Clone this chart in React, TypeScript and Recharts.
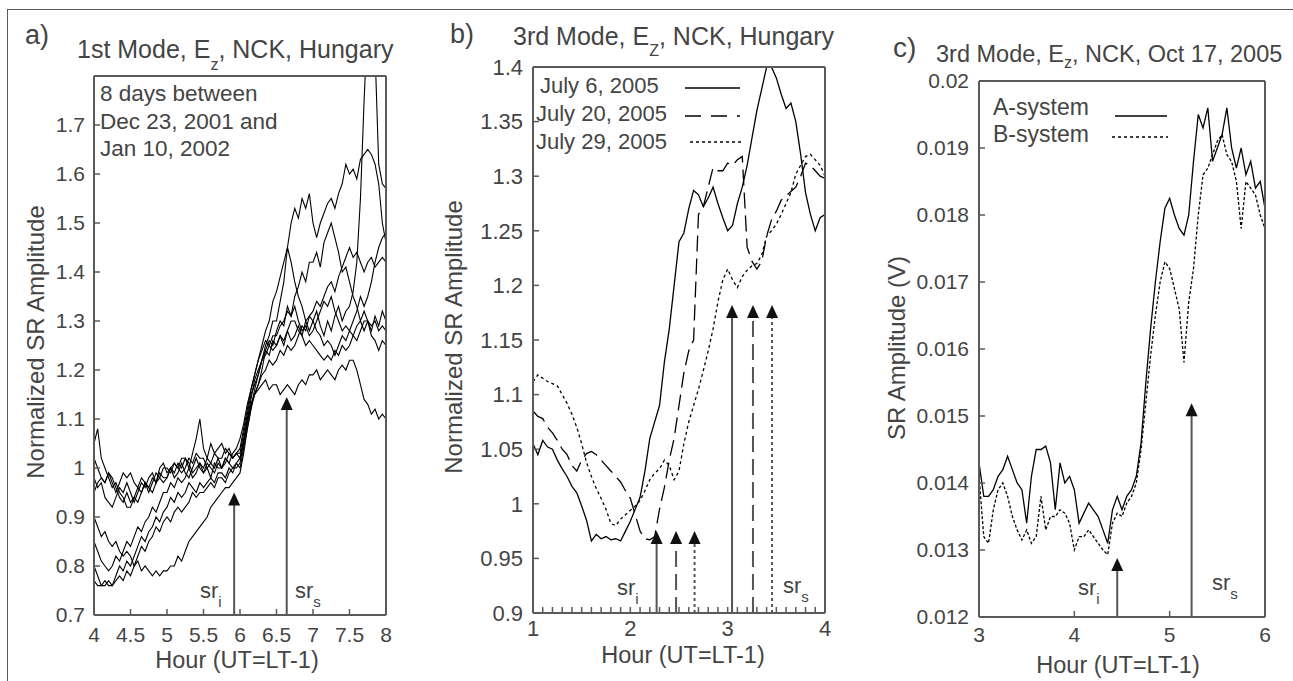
import React from 'react'
import { LineChart, Line, XAxis, YAxis, ReferenceLine } from 'recharts'

const FONT = '"Liberation Sans", Arial, sans-serif'
const INK = '#444'
const FRAME = '#5a5a5a'

// ---------- panel a : 1st mode, 8 days ----------
const hoursA = [
  4, 4.05, 4.1, 4.15, 4.2, 4.25, 4.3, 4.35, 4.4, 4.45,
  4.5, 4.55, 4.6, 4.65, 4.7, 4.75, 4.8, 4.85, 4.9, 4.95,
  5, 5.05, 5.1, 5.15, 5.2, 5.25, 5.3, 5.35, 5.4, 5.45,
  5.5, 5.55, 5.6, 5.65, 5.7, 5.75, 5.8, 5.85, 5.9, 5.95,
  6, 6.05, 6.1, 6.15, 6.2, 6.25, 6.3, 6.35, 6.4, 6.45,
  6.5, 6.55, 6.6, 6.65, 6.7, 6.75, 6.8, 6.85, 6.9, 6.95,
  7, 7.05, 7.1, 7.15, 7.2, 7.25, 7.3, 7.35, 7.4, 7.45,
  7.5, 7.55, 7.6, 7.65, 7.7, 7.75, 7.8, 7.85, 7.9, 7.95,
  8,
]
const dayA1 = [
  0.98, 0.96, 0.97, 0.94, 0.93, 0.92, 0.94, 0.96, 0.95, 0.97,
  0.95, 0.93, 0.95, 0.97, 0.96, 0.98, 0.99, 0.97, 1.0, 1.01,
  0.99, 1.0, 0.98, 0.99, 1.01, 0.99, 0.98, 1.0, 1.02, 1.0,
  0.99, 1.01, 1.0, 0.99, 1.01, 1.0, 1.02, 1.01, 1.03, 1.04,
  1.06, 1.09, 1.13, 1.16, 1.19, 1.22, 1.25, 1.28, 1.3, 1.34,
  1.36, 1.39, 1.42, 1.45, 1.5, 1.53, 1.51, 1.55, 1.53, 1.56,
  1.5, 1.47, 1.5, 1.52, 1.54, 1.55, 1.53, 1.56, 1.58, 1.62,
  1.6, 1.61, 1.59, 1.63, 1.64, 1.65, 1.64, 1.62, 1.58, 1.5,
  1.46,
]
const dayA2 = [
  1.02, 1.0, 0.98, 0.97, 0.99, 0.97, 0.95, 0.97, 0.99, 0.98,
  0.99, 0.97, 0.96, 0.98, 0.97, 0.96, 0.95, 0.97, 0.98, 0.97,
  0.98, 1.0, 1.01, 1.0, 1.02, 1.02, 1.01, 0.99, 1.0, 1.01,
  1.0, 1.02, 1.01, 1.03, 1.02, 1.02, 1.04, 1.03, 1.02, 1.03,
  1.03, 1.07, 1.11, 1.15, 1.17, 1.19, 1.22, 1.24, 1.23, 1.26,
  1.25, 1.27, 1.25, 1.28, 1.26, 1.27, 1.29, 1.27, 1.3, 1.28,
  1.3, 1.32, 1.29, 1.27, 1.3, 1.28, 1.31, 1.33, 1.3, 1.32,
  1.33, 1.36, 1.42, 1.55, 1.75, 1.92, 1.98, 1.85, 1.62, 1.58,
  1.57,
]
const dayA3 = [
  0.85, 0.83, 0.81, 0.8, 0.79, 0.8, 0.82, 0.81, 0.83, 0.85,
  0.84, 0.86, 0.88, 0.87, 0.89, 0.9, 0.92, 0.91, 0.93, 0.95,
  0.95, 0.97, 0.96, 0.98, 0.97, 0.98, 1.0, 0.98, 0.99, 1.01,
  0.99, 1.0, 0.98, 1.01, 1.0, 1.0, 1.02, 1.01, 1.0, 1.01,
  1.02, 1.05, 1.09, 1.13, 1.15, 1.17, 1.2, 1.24, 1.26, 1.25,
  1.28, 1.3, 1.29, 1.33, 1.31, 1.35, 1.37, 1.4, 1.38, 1.42,
  1.42, 1.44, 1.41, 1.46, 1.48, 1.5, 1.47, 1.44, 1.4, 1.41,
  1.38, 1.35, 1.33, 1.3, 1.32, 1.3, 1.28, 1.31, 1.29, 1.32,
  1.3,
]
const dayA4 = [
  1.05, 1.08, 1.02, 1.0, 0.98, 0.96, 0.97, 0.95, 0.94, 0.92,
  0.92, 0.94, 0.93, 0.95, 0.97, 0.96, 0.98, 0.97, 0.99, 0.98,
  0.98, 1.0, 0.99, 1.01, 1.0, 1.02, 1.0, 1.03, 1.06, 1.1,
  1.04, 1.02, 1.05, 1.03, 1.04, 1.05, 1.03, 1.04, 1.02, 1.03,
  1.02, 1.06, 1.1, 1.13, 1.15, 1.16, 1.17, 1.18, 1.16, 1.17,
  1.17, 1.15, 1.16, 1.17, 1.16, 1.15, 1.17, 1.18, 1.17, 1.19,
  1.19, 1.2, 1.18, 1.19, 1.2, 1.19, 1.18, 1.2, 1.21, 1.2,
  1.22, 1.22, 1.2, 1.17, 1.14, 1.13, 1.11, 1.12, 1.1, 1.11,
  1.1,
]
const dayA5 = [
  0.8, 0.78, 0.76, 0.76, 0.77, 0.76, 0.78, 0.8, 0.79, 0.81,
  0.8, 0.82, 0.84, 0.86, 0.85, 0.87, 0.88, 0.9, 0.89, 0.91,
  0.92, 0.94, 0.93, 0.95, 0.94, 0.95, 0.97, 0.96, 0.95, 0.97,
  0.96, 0.97, 0.98, 0.97, 0.99, 0.99, 0.98, 1.0, 0.99, 1.01,
  1.0, 1.04, 1.08, 1.12, 1.16, 1.19, 1.22, 1.25, 1.27, 1.3,
  1.3, 1.34, 1.38, 1.45, 1.42, 1.38, 1.35, 1.33, 1.3, 1.31,
  1.3, 1.28, 1.27, 1.25, 1.26, 1.25, 1.23, 1.25, 1.27, 1.26,
  1.28, 1.27, 1.29, 1.3, 1.28, 1.3, 1.27, 1.26, 1.24, 1.26,
  1.25,
]
const dayA6 = [
  0.9, 0.88, 0.86, 0.87, 0.85, 0.84, 0.85, 0.83, 0.82, 0.83,
  0.82, 0.8, 0.81, 0.79, 0.8, 0.79, 0.78, 0.79, 0.78, 0.79,
  0.79, 0.8, 0.8, 0.82, 0.81, 0.83, 0.85, 0.86, 0.87, 0.88,
  0.89, 0.9, 0.92, 0.93, 0.94, 0.95, 0.96, 0.96, 0.97, 0.98,
  0.99, 1.03, 1.08, 1.12, 1.15, 1.17, 1.19, 1.2, 1.22, 1.21,
  1.22, 1.24, 1.23, 1.25, 1.24, 1.25, 1.27, 1.29, 1.28, 1.31,
  1.32, 1.34, 1.33, 1.35, 1.37, 1.38, 1.36, 1.39, 1.41, 1.43,
  1.45, 1.43, 1.44, 1.42, 1.4, 1.42, 1.43, 1.41, 1.42, 1.43,
  1.42,
]
const dayA7 = [
  0.77, 0.76, 0.76, 0.77, 0.76, 0.76, 0.77, 0.78, 0.77, 0.79,
  0.78, 0.8, 0.82, 0.84, 0.83, 0.85, 0.86, 0.88, 0.87, 0.89,
  0.9, 0.89, 0.91, 0.92, 0.91, 0.92, 0.93, 0.95, 0.94, 0.95,
  0.95, 0.96, 0.97, 0.96, 0.98, 0.98, 0.97, 0.99, 1.0, 1.0,
  1.01, 1.05, 1.1, 1.14, 1.18, 1.2, 1.22, 1.23, 1.25, 1.24,
  1.25, 1.27, 1.26, 1.28, 1.3, 1.3, 1.28, 1.27, 1.25, 1.26,
  1.25, 1.24, 1.23, 1.22, 1.23, 1.22, 1.24, 1.23, 1.25, 1.24,
  1.25, 1.27, 1.26, 1.28, 1.3, 1.3, 1.29, 1.3, 1.28, 1.29,
  1.28,
]
const dayA8 = [
  0.95, 0.97, 0.98, 0.97, 0.99, 0.98, 0.96, 0.94, 0.93, 0.95,
  0.93, 0.94, 0.96, 0.95, 0.97, 0.95, 0.97, 0.99, 0.98, 1.0,
  1.0, 0.99, 1.01, 1.0, 0.99, 1.0, 1.02, 1.01, 1.03, 1.02,
  1.02, 1.0, 1.01, 1.0, 1.02, 1.0, 1.01, 1.03, 1.02, 1.03,
  1.04, 1.08, 1.12, 1.16, 1.19, 1.22, 1.24, 1.26, 1.25, 1.27,
  1.27, 1.29, 1.3, 1.32, 1.31, 1.33, 1.3, 1.28, 1.29, 1.27,
  1.28, 1.3, 1.32, 1.34, 1.33, 1.35, 1.32, 1.3, 1.28, 1.29,
  1.28, 1.3, 1.32, 1.35, 1.33, 1.35, 1.38, 1.42, 1.45, 1.47,
  1.48,
]
const seriesA = [dayA1, dayA2, dayA3, dayA4, dayA5, dayA6, dayA7, dayA8]
const ticksAX = [4, 4.5, 5, 5.5, 6, 6.5, 7, 7.5, 8]
const ticksAY = [0.7, 0.8, 0.9, 1, 1.1, 1.2, 1.3, 1.4, 1.5, 1.6, 1.7]
const arrowsA = [
  { x: 5.92, tip: 0.95, dash: '' },
  { x: 6.64, tip: 1.145, dash: '' },
]

// ---------- panel b : 3rd mode, July 2005 ----------
const hoursB = [
  1, 1.05, 1.1, 1.15, 1.2, 1.25, 1.3, 1.35, 1.4, 1.45,
  1.5, 1.55, 1.6, 1.65, 1.7, 1.75, 1.8, 1.85, 1.9, 1.95,
  2, 2.05, 2.1, 2.15, 2.2, 2.25, 2.3, 2.35, 2.4, 2.45,
  2.5, 2.55, 2.6, 2.65, 2.7, 2.75, 2.8, 2.85, 2.9, 2.95,
  3, 3.05, 3.1, 3.15, 3.2, 3.25, 3.3, 3.35, 3.4, 3.45,
  3.5, 3.55, 3.6, 3.65, 3.7, 3.75, 3.8, 3.85, 3.9, 3.95,
  4,
]
const july6 = [
  1.055, 1.045, 1.058, 1.052, 1.05, 1.04, 1.032, 1.025, 1.016, 1.01,
  0.998, 0.985, 0.966, 0.972, 0.968, 0.97, 0.967, 0.968, 0.966, 0.975,
  0.984, 0.995, 1.006, 1.03, 1.06, 1.075, 1.09, 1.13, 1.16, 1.2,
  1.24, 1.248, 1.27, 1.287, 1.283, 1.272, 1.28, 1.29, 1.275, 1.262,
  1.25, 1.255, 1.275, 1.29, 1.31, 1.335, 1.36, 1.38, 1.4, 1.4,
  1.39, 1.375, 1.362, 1.367, 1.35, 1.32, 1.285, 1.265, 1.25, 1.262,
  1.265,
]
const july20 = [
  1.085, 1.08, 1.078, 1.07, 1.065, 1.058, 1.05, 1.045, 1.035, 1.03,
  1.04, 1.046, 1.048, 1.045, 1.04, 1.035, 1.03, 1.025, 1.02, 1.012,
  1.005, 0.99, 0.975, 0.968, 0.967, 0.97, 0.995, 1.015, 1.04, 1.06,
  1.09, 1.12, 1.14, 1.15, 1.265, 1.272, 1.29, 1.308, 1.305, 1.305,
  1.312, 1.31, 1.315, 1.318, 1.235, 1.222, 1.215, 1.222, 1.245, 1.26,
  1.268, 1.278, 1.282, 1.286, 1.29, 1.3, 1.312, 1.31, 1.305, 1.3,
  1.298,
]
const july29 = [
  1.112, 1.118, 1.115, 1.112, 1.11, 1.108, 1.1, 1.092, 1.082, 1.07,
  1.055, 1.038, 1.025, 1.014, 1.005, 0.995, 0.982, 0.98, 0.986, 0.99,
  0.994, 0.998, 1.003, 1.012, 1.022, 1.028, 1.032, 1.04, 1.035, 1.022,
  1.03, 1.055, 1.075, 1.09, 1.105, 1.122, 1.14, 1.16, 1.185, 1.205,
  1.215, 1.205, 1.198, 1.208, 1.214, 1.218, 1.22, 1.228, 1.245, 1.25,
  1.256, 1.265, 1.275, 1.285, 1.302, 1.31, 1.318, 1.32, 1.315, 1.31,
  1.3,
]
const ticksBX = [
  1, 1.1, 1.2, 1.3, 1.4, 1.5, 1.6, 1.7, 1.8, 1.9,
  2, 2.1, 2.2, 2.3, 2.4, 2.5, 2.6, 2.7, 2.8, 2.9,
  3, 3.1, 3.2, 3.3, 3.4, 3.5, 3.6, 3.7, 3.8, 3.9, 4,
]
const ticksBY = [0.9, 0.95, 1, 1.05, 1.1, 1.15, 1.2, 1.25, 1.3, 1.35, 1.4]
const arrowsB = [
  { x: 2.27, tip: 0.975, dash: '' },
  { x: 2.47, tip: 0.975, dash: '16 7' },
  { x: 2.66, tip: 0.975, dash: '3 3' },
  { x: 3.045, tip: 1.182, dash: '' },
  { x: 3.26, tip: 1.182, dash: '16 7' },
  { x: 3.456, tip: 1.182, dash: '3 3' },
]

// ---------- panel c : 3rd mode, Oct 17 2005 ----------
const hoursC = [
  3, 3.05, 3.1, 3.15, 3.2, 3.25, 3.3, 3.35, 3.4, 3.45,
  3.5, 3.55, 3.6, 3.65, 3.7, 3.75, 3.8, 3.85, 3.9, 3.95,
  4, 4.05, 4.1, 4.15, 4.2, 4.25, 4.3, 4.35, 4.4, 4.45,
  4.5, 4.55, 4.6, 4.65, 4.7, 4.75, 4.8, 4.85, 4.9, 4.95,
  5, 5.05, 5.1, 5.15, 5.2, 5.25, 5.3, 5.35, 5.4, 5.45,
  5.5, 5.55, 5.6, 5.65, 5.7, 5.75, 5.8, 5.85, 5.9, 5.95,
  6,
]
const systemA = [
  0.0143, 0.0138, 0.0138, 0.0139, 0.0141, 0.0142, 0.0144, 0.0142, 0.014, 0.0139,
  0.0134, 0.0141, 0.0145, 0.0145, 0.01455, 0.0143, 0.0136, 0.0143, 0.014, 0.0141,
  0.0139, 0.0134, 0.01355, 0.0137, 0.0136, 0.0135, 0.0133, 0.0131, 0.0136, 0.0138,
  0.0136, 0.0138, 0.0139, 0.0141, 0.0146, 0.0155, 0.0163, 0.017, 0.0176, 0.0181,
  0.01825, 0.018, 0.0178, 0.0177, 0.018, 0.0188, 0.0195, 0.0193, 0.0196, 0.0188,
  0.019, 0.0192, 0.0196, 0.019, 0.0187, 0.019, 0.0186, 0.0188, 0.0184, 0.0185,
  0.0181,
]
const systemB = [
  0.0141, 0.0132, 0.0131, 0.0136, 0.0139, 0.014, 0.0138, 0.0135, 0.0133, 0.01315,
  0.0133, 0.0131, 0.0132, 0.0138, 0.0133, 0.0135, 0.0135, 0.0136, 0.01355, 0.0134,
  0.013, 0.0132, 0.0132, 0.0133, 0.0132, 0.0131, 0.013, 0.01293, 0.0134, 0.01355,
  0.0135, 0.0137, 0.0138, 0.014, 0.0145, 0.0152, 0.0159, 0.0165, 0.017, 0.0173,
  0.0172, 0.0169, 0.0166, 0.0158, 0.0167, 0.0172, 0.018, 0.0186, 0.0187, 0.0189,
  0.0191, 0.0192, 0.0189, 0.0188, 0.0185, 0.0178, 0.0185, 0.0184, 0.0183, 0.018,
  0.0178,
]
const ticksCX = [3, 4, 5, 6]
const ticksCY = [0.012, 0.013, 0.014, 0.015, 0.016, 0.017, 0.018, 0.019, 0.02]
const arrowsC = [
  { x: 4.45, tip: 0.01288, dash: '' },
  { x: 5.23, tip: 0.01519, dash: '' },
]

const rowsA = hoursA.map((x, i) => {
  const row: any = { x }
  seriesA.forEach((s, k) => (row['d' + k] = s[i]))
  return row
})
const rowsB = hoursB.map((x, i) => ({ x, j6: july6[i], j20: july20[i], j29: july29[i] }))
const rowsC = hoursC.map((x, i) => ({ x, a: systemA[i], b: systemB[i] }))

const axisLine = { stroke: FRAME, strokeWidth: 2 }
const tickLine = { stroke: FRAME, strokeWidth: 1.5 }
const tickText = (size: number) => ({ fill: INK, fontSize: size, fontFamily: FONT })

const arrowShape = (dash: string) => (p: any) => {
  const x = p.x1
  const tip = Math.min(p.y1, p.y2)
  const base = Math.max(p.y1, p.y2)
  return (
    <g>
      <line x1={x} y1={base} x2={x} y2={tip + 10} stroke="#555" strokeWidth={2} strokeDasharray={dash || undefined} />
      <polygon points={`${x},${tip} ${x - 6},${tip + 13} ${x + 6},${tip + 13}`} fill="#111" />
    </g>
  )
}

// bottom/left axes carry labels; top/right axes (1px thick, Recharts skips 0) only repeat the inward ticks
const frameAxes = (domX: number[], tX: number[], domY: number[], tY: number[], size: number, xh: number, yw: number, xm: number, ym: number, fmtX?: (v: number) => string) => [
  <XAxis key="xb" dataKey="x" type="number" domain={domX} ticks={tX} interval={0} height={xh} tickSize={-6} tickMargin={xm}
    axisLine={axisLine} tickLine={tickLine} tick={tickText(size)} tickFormatter={fmtX} />,
  <XAxis key="xt" xAxisId="top" orientation="top" dataKey="x" type="number" domain={domX} ticks={tX} interval={0} height={1}
    tickSize={-6} axisLine={axisLine} tickLine={tickLine} tick={false} />,
  <YAxis key="yl" type="number" domain={domY} ticks={tY} interval={0} width={yw} tickSize={-6} tickMargin={ym} allowDataOverflow
    axisLine={axisLine} tickLine={tickLine} tick={tickText(size)} />,
  <YAxis key="yr" yAxisId="right" orientation="right" type="number" domain={domY} ticks={tY} interval={0} width={1}
    tickSize={-6} allowDataOverflow axisLine={axisLine} tickLine={tickLine} tick={false} />,
]

// invisible series so the top and right axes have something to scale
const ghost = (key: string) => (
  <Line xAxisId="top" yAxisId="right" dataKey={key} stroke="transparent" dot={false} activeDot={false}
    legendType="none" isAnimationActive={false} />
)

const PanelA = () => (
  <LineChart width={430} height={681} data={rowsA} margin={{ top: 75, right: 43, bottom: 0, left: 0 }}>
    {frameAxes([4, 8], ticksAX, [0.7, 1.8], ticksAY, 21, 66, 94, 18, 15)}
    {ghost('d0')}
    {seriesA.map((_, k) => (
      <Line key={k} dataKey={'d' + k} stroke="#000" strokeWidth={1.1} dot={false} activeDot={false} isAnimationActive={false} />
    ))}
    {arrowsA.map((a, i) => (
      <ReferenceLine key={i} segment={[{ x: a.x, y: 0.7 }, { x: a.x, y: a.tip }]} shape={arrowShape(a.dash)} />
    ))}
  </LineChart>
)

const PanelB = () => (
  <LineChart width={430} height={681} data={rowsB} margin={{ top: 66, right: 34, bottom: 0, left: 0 }}>
    {frameAxes([1, 4], ticksBX, [0.9, 1.4], ticksBY, 22, 68, 103, 13, 16, (v) => (Number.isInteger(v) ? String(v) : ''))}
    {ghost('j6')}
    <Line dataKey="j6" stroke="#000" strokeWidth={1.3} dot={false} activeDot={false} isAnimationActive={false} />
    <Line dataKey="j20" stroke="#000" strokeWidth={1.3} strokeDasharray="16 7" dot={false} activeDot={false} isAnimationActive={false} />
    <Line dataKey="j29" stroke="#000" strokeWidth={1.3} strokeDasharray="3 3" dot={false} activeDot={false} isAnimationActive={false} />
    {arrowsB.map((a, i) => (
      <ReferenceLine key={i} segment={[{ x: a.x, y: 0.9 }, { x: a.x, y: a.tip }]} shape={arrowShape(a.dash)} />
    ))}
  </LineChart>
)

const PanelC = () => (
  <LineChart width={433} height={681} data={rowsC} margin={{ top: 80, right: 27, bottom: 0, left: 0 }}>
    {frameAxes([3, 6], ticksCX, [0.012, 0.02], ticksCY, 21, 64, 119, 16, 16)}
    {ghost('a')}
    <Line dataKey="a" stroke="#000" strokeWidth={1.3} dot={false} activeDot={false} isAnimationActive={false} />
    <Line dataKey="b" stroke="#000" strokeWidth={1.3} strokeDasharray="3 2" dot={false} activeDot={false} isAnimationActive={false} />
    {arrowsC.map((a, i) => (
      <ReferenceLine key={i} segment={[{ x: a.x, y: 0.012 }, { x: a.x, y: a.tip }]} shape={arrowShape(a.dash)} />
    ))}
  </LineChart>
)

const Sr = ({ x, y, sub }: { x: number; y: number; sub: string }) => (
  <text x={x} y={y} fontSize={22}>
    sr<tspan fontSize={15} dy={9}>{sub}</tspan>
  </text>
)

const Annotations = () => (
  <svg width={1293} height={681} style={{ position: 'absolute', left: 0, top: 0, pointerEvents: 'none', whiteSpace: 'pre' }}
    fontFamily={FONT} fill={INK}>
    {/* panel a */}
    <text x={25} y={44} fontSize={27}>a)</text>
    <text x={77} y={58} fontSize={25}>
      1st Mode, E<tspan fontSize={16} dy={12}>z</tspan><tspan dy={-12}>,  NCK, Hungary</tspan>
    </text>
    <text x={100} y={101} fontSize={22.5}>8 days between</text>
    <text x={100} y={129} fontSize={22.5}>Dec 23, 2001 and</text>
    <text x={100} y={156} fontSize={22.5}>Jan 10, 2002</text>
    <text transform="translate(44,342) rotate(-90)" textAnchor="middle" fontSize={24}>Normalized SR Amplitude</text>
    <text x={237} y={668} textAnchor="middle" fontSize={23.5}>Hour (UT=LT-1)</text>
    <Sr x={200} y={598} sub="i" />
    <Sr x={295} y={598} sub="s" />

    {/* panel b */}
    <text x={450} y={43} fontSize={27}>b)</text>
    <text x={513} y={45} fontSize={25}>
      3rd Mode, E<tspan fontSize={16} dy={11}>Z</tspan><tspan dy={-11}>, NCK, Hungary</tspan>
    </text>
    <text transform="translate(462,337) rotate(-90)" textAnchor="middle" fontSize={24}>Normalized SR Amplitude</text>
    <text x={683} y={663} textAnchor="middle" fontSize={23.5}>Hour (UT=LT-1)</text>
    <text x={540} y={93} fontSize={22}>July  6, 2005</text>
    <text x={536} y={121} fontSize={22}>July 20, 2005</text>
    <text x={536} y={149} fontSize={22}>July 29, 2005</text>
    <line x1={685} y1={88} x2={740} y2={88} stroke="#000" strokeWidth={1.5} />
    <line x1={685} y1={116} x2={740} y2={116} stroke="#000" strokeWidth={1.5} strokeDasharray="16 10" />
    <line x1={690} y1={142} x2={743} y2={142} stroke="#000" strokeWidth={1.5} strokeDasharray="3 3" />
    <Sr x={617} y={595} sub="i" />
    <Sr x={783} y={593} sub="s" />

    {/* panel c */}
    <text x={893} y={57} fontSize={28}>c)</text>
    <text x={936} y={62} fontSize={23.5}>
      3rd Mode, E<tspan fontSize={16} dy={6}>z</tspan><tspan dy={-6}>, NCK, Oct 17, 2005</tspan>
    </text>
    <text transform="translate(905,348) rotate(-90)" textAnchor="middle" fontSize={24}>SR Amplitude (V)</text>
    <text x={1118} y={673} textAnchor="middle" fontSize={23.5}>Hour (UT=LT-1)</text>
    <text x={993} y={115} fontSize={23}>A-system</text>
    <text x={993} y={142} fontSize={23}>B-system</text>
    <line x1={1115} y1={116} x2={1167} y2={116} stroke="#000" strokeWidth={1.5} />
    <line x1={1112} y1={137} x2={1168} y2={137} stroke="#000" strokeWidth={1.5} strokeDasharray="3 3" />
    <Sr x={1078} y={595} sub="i" />
    <Sr x={1212} y={590} sub="s" />
  </svg>
)

export default function App() {
  return (
    <div style={{ position: 'absolute', left: 0, top: 0, width: 1293, height: 681, overflow: 'hidden', background: '#fff', fontFamily: FONT }}>
      <div style={{ position: 'absolute', left: 7, top: 9, width: 1400, height: 800, border: `1.5px solid ${FRAME}` }} />
      <div style={{ position: 'absolute', left: 0, top: 0 }}>
        <PanelA />
      </div>
      <div style={{ position: 'absolute', left: 430, top: 0 }}>
        <PanelB />
      </div>
      <div style={{ position: 'absolute', left: 860, top: 0 }}>
        <PanelC />
      </div>
      <Annotations />
    </div>
  )
}
